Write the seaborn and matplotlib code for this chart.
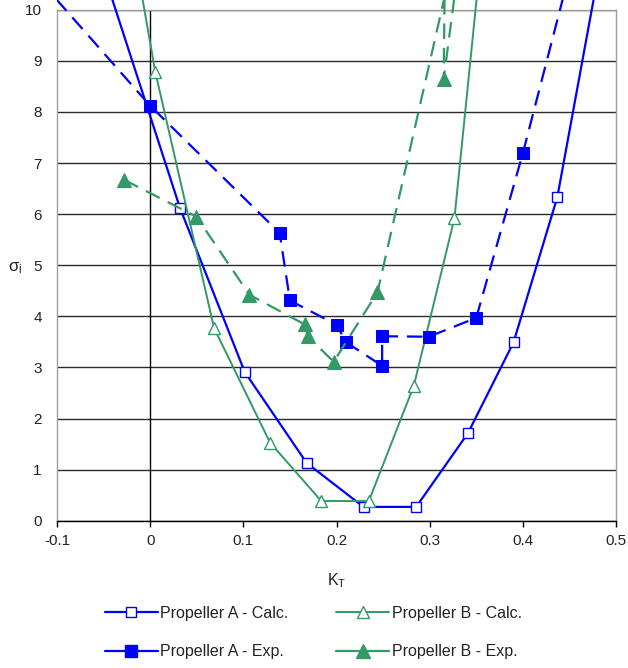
import matplotlib
matplotlib.use("Agg")
import matplotlib.pyplot as plt
import pandas as pd
import seaborn as sns
from matplotlib.lines import Line2D
from matplotlib.patches import Rectangle

# Cavitation inception index sigma_i versus thrust coefficient K_T.
# End points above 10 continue the curves past the top of the plot.
a_calc_kt = [-0.046, 0.032, 0.1015, 0.168, 0.229, 0.2855, 0.341, 0.390, 0.437, 0.479]
a_calc_sigma = [10.5, 6.12, 2.91, 1.13, 0.27, 0.27, 1.71, 3.49, 6.33, 10.5]

b_calc_kt = [-0.011, 0.0054, 0.0686, 0.1286, 0.1837, 0.2347, 0.283, 0.3266, 0.352]
b_calc_sigma = [10.5, 8.79, 3.77, 1.53, 0.385, 0.385, 2.64, 5.92, 10.5]

a_exp_kt = [-0.115, 0.0, 0.139, 0.150, 0.2005, 0.2097, 0.249, 0.249, 0.299, 0.350, 0.400, 0.447]
a_exp_sigma = [10.5, 8.12, 5.63, 4.31, 3.83, 3.50, 3.03, 3.61, 3.60, 3.97, 7.19, 10.5]

b_exp_kt = [-0.028, 0.0497, 0.1066, 0.166, 0.169, 0.197, 0.2440, 0.316, 0.315, 0.332]
b_exp_sigma = [6.67, 5.95, 4.42, 3.84, 3.61, 3.11, 4.47, 10.25, 8.64, 11.0]

series_labels = ["Propeller A - Calc.", "Propeller A - Exp.",
                 "Propeller B - Calc.", "Propeller B - Exp."]
x_ticks = [-0.1, 0, 0.1, 0.2, 0.3, 0.4, 0.5]
x_tick_labels = ["-0.1", "0", "0.1", "0.2", "0.3", "0.4", "0.5"]
y_ticks = list(range(0, 11))

BLUE = "#0000FF"
GREEN = "#339966"
DASH = (0, (7, 4))

sns.set_theme(style="white")
plt.rcParams["font.family"] = ["Liberation Sans", "DejaVu Sans"]
plt.rcParams["mathtext.fontset"] = "custom"
plt.rcParams["mathtext.rm"] = "Liberation Sans"
plt.rcParams["mathtext.it"] = "Liberation Sans:italic"

fig = plt.figure(figsize=(6.28, 6.68), dpi=100)
ax = fig.add_axes([57 / 628, 1 - 520.7 / 668, 559 / 628, 511 / 668])

styles = [
    (a_calc_kt, a_calc_sigma, dict(color=BLUE, linewidth=1.6, linestyle="-",
                                   marker="s", markersize=7.5,
                                   markerfacecolor="white", markeredgecolor=BLUE,
                                   markeredgewidth=1.0)),
    (b_calc_kt, b_calc_sigma, dict(color=GREEN, linewidth=1.4, linestyle="-",
                                   marker="^", markersize=8.5,
                                   markerfacecolor="white", markeredgecolor=GREEN,
                                   markeredgewidth=1.0)),
    (a_exp_kt, a_exp_sigma, dict(color=BLUE, linewidth=1.6, linestyle=DASH,
                                 marker="s", markersize=8.5,
                                 markerfacecolor=BLUE, markeredgecolor=BLUE)),
    (b_exp_kt, b_exp_sigma, dict(color=GREEN, linewidth=1.6, linestyle=DASH,
                                 marker="^", markersize=9.5,
                                 markerfacecolor=GREEN, markeredgecolor=GREEN)),
]

# lines may run slightly above the top gridline, up to the figure edge
clip_box = Rectangle((0, 0), 1, 1.0186, transform=ax.transAxes)
for kt, sigma, kw in styles:
    df = pd.DataFrame({"KT": kt, "sigma": sigma})
    visible = [i for i, s in enumerate(sigma) if s <= 10]
    n_before = len(ax.lines)
    sns.lineplot(data=df, x="KT", y="sigma", ax=ax, sort=False, estimator=None,
                 markevery=visible, zorder=3, **kw)
    for ln in ax.lines[n_before:]:
        ln.set_clip_path(clip_box)

ax.set_xlim(-0.1, 0.5)
ax.set_ylim(0, 10)
ax.set_xticks(x_ticks)
ax.set_xticklabels(x_tick_labels)
ax.set_yticks(y_ticks)

ax.axvline(0, color="black", linewidth=1.0, zorder=1)
ax.set_axisbelow(True)
ax.yaxis.grid(True, color="#2a2a2a", linewidth=1.0)
ax.xaxis.grid(False)

for side in ("left", "top", "right"):
    ax.spines[side].set_color("#a0a0a0")
    ax.spines[side].set_linewidth(1.0)
ax.spines["bottom"].set_color("black")
ax.spines["bottom"].set_linewidth(1.0)

ax.tick_params(axis="x", which="both", bottom=True, direction="out", length=4.5,
               width=1.0, color="black", pad=5, labelsize=11, labelcolor="#222222")
ax.tick_params(axis="y", which="both", left=False, length=0, pad=11,
               labelsize=11, labelcolor="#222222")

ax.set_xlabel("K$_\\mathrm{T}$", fontsize=11.5, color="#222222")
ax.xaxis.set_label_coords(0.501, -0.118)
ax.xaxis.label.set_va("center")
ax.set_ylabel("σ$_\\mathrm{i}$", fontsize=12, color="#222222", rotation=0)
ax.yaxis.set_label_coords(-0.075, 0.494)
ax.yaxis.label.set_va("center")
ax.yaxis.label.set_ha("center")

handles = [
    Line2D([], [], color=BLUE, linewidth=1.6, marker="s", markersize=7.5,
           markerfacecolor="white", markeredgecolor=BLUE),
    Line2D([], [], color=BLUE, linewidth=1.6, marker="s", markersize=8.5,
           markerfacecolor=BLUE, markeredgecolor=BLUE),
    Line2D([], [], color=GREEN, linewidth=1.4, marker="^", markersize=8.5,
           markerfacecolor="white", markeredgecolor=GREEN),
    Line2D([], [], color=GREEN, linewidth=1.6, marker="^", markersize=9.5,
           markerfacecolor=GREEN, markeredgecolor=GREEN),
]
fig.legend(handles, series_labels, loc="upper left",
           bbox_to_anchor=(105 / 628, 1 - 606 / 668), bbox_transform=fig.transFigure,
           ncol=2, frameon=False, fontsize=11.5, borderpad=0, borderaxespad=0,
           handlelength=3.3, handletextpad=0.15, columnspacing=3.0,
           labelspacing=1.45, labelcolor="#222222")

fig.savefig("out.png", dpi=100, facecolor="white")
